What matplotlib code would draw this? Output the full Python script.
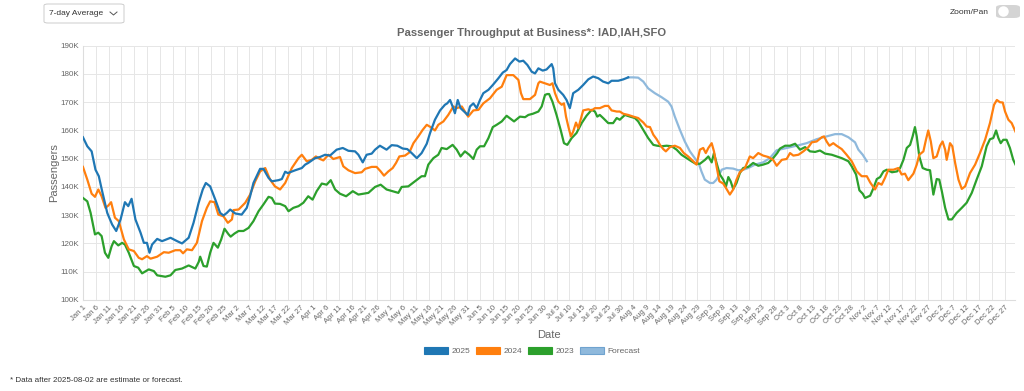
import numpy as np
import pandas as pd
import matplotlib
matplotlib.use("Agg")
import matplotlib.pyplot as plt
from matplotlib.patches import FancyBboxPatch, Rectangle, Ellipse
from matplotlib.lines import Line2D

plt.rcParams['font.family'] = ['Liberation Sans', 'DejaVu Sans']

# day of year (0 = Jan 1) and passengers in thousands
days_2025 = [0, 1.7, 3.4, 4.9, 6.2, 7.5, 9.5, 11.4, 13, 14.7, 16.4, 17.7, 19, 20.5, 22.5, 23.8, 25, 26, 27, 29,
             30.9, 34.2, 36.8, 38.7, 41.3, 43.2, 45.2, 46.8, 48, 49.7, 51.7, 53.6, 54.9, 56.2, 57.5, 59.5, 62, 64,
             65.3, 66.6, 69.2, 70.5, 72.5, 73.8, 76.4, 77.7, 79, 80, 82.9, 85.5, 86.8, 88, 90.7, 92.6, 94.6, 96.5,
             99.1, 101.5, 103.7, 106.3, 107.6, 109.3, 110.8, 112.8, 114.1, 116, 118.6, 120.6, 122.8, 124.9, 126.7,
             128.4, 130.4, 132.3, 134.3, 135.6, 137.5, 139.5, 141.4, 142.3, 143.4, 144.4, 145.3, 146.4, 147.5,
             148.9, 150.3, 151.2, 152.5, 153.8, 155.1, 156.4, 158.4, 160.1, 162.3, 164, 165.5, 166.8, 168.8, 170.5,
             172, 173.6, 175.3, 176.6, 177.9, 179.6, 181.1, 183.1, 183.7, 184.4, 185.7, 187.6, 188.9, 190.2, 191.5,
             193.5, 195.4, 197.4, 199.3, 201.3, 203.2, 205.2, 206.5, 209.1, 211.1, 213]
pax_2025 = [157.6, 154.4, 152.6, 146.1, 143.8, 138.5, 130.8, 126.7, 124.4, 128.5, 134.6, 133.2, 135.8, 128.5, 123.8,
            120.2, 120.2, 116.7, 119.6, 121.6, 120.8, 122, 120.8, 120, 122, 127.3, 134.4, 139.1, 141.4, 140.2, 135.5,
            130.8, 129.9, 130.8, 132, 130.6, 130.2, 132.6, 136.7, 141.4, 146.4, 146.4, 143.2, 142, 142.4, 142.8,
            145.4, 144.9, 145.9, 146.7, 147.9, 148.5, 150.2, 150.6, 151.4, 151.1, 153.2, 153.8, 152.8, 152.6, 151.4,
            148.7, 151.4, 151.8, 153.2, 154.6, 153.2, 154.8, 154.6, 153.6, 153.4, 152, 150.2, 152, 155.3, 159.1,
            163.8, 167.1, 169.1, 169.6, 170.8, 168.5, 166.1, 170.8, 167.9, 166.7, 165.5, 168.5, 169.6, 167.9, 170.8,
            173.2, 174.4, 176.1, 178.5, 180.5, 181.4, 183.5, 185.5, 184.4, 184.7, 183.2, 180.8, 180.2, 182, 181.2,
            181.6, 183.5, 182, 176.7, 174.4, 172.6, 170.8, 167.9, 173.2, 174.4, 176.1, 178.1, 179.1, 178.5, 177.3,
            176.7, 177.6, 177.6, 178.1, 178.8]

days_forecast = [213, 215, 216.9, 218.9, 220.8, 223.4, 226, 228.6, 229.9, 231.2, 233.2, 235.1, 237.1, 239, 240.7,
                 241.6, 242.9, 244.9, 246.2, 247.5, 249.5, 251.4, 254, 256, 258, 259.9, 262.5, 265.7, 268.3, 271,
                 274.9, 278.8, 282.7, 286.6, 290.5, 293.8, 296.4, 299, 301.6, 302.9, 304.6, 306.2]
pax_forecast = [178.8, 178.8, 178.7, 177.3, 174.9, 173.2, 171.8, 170.2, 168.5, 164.9, 160.2, 156.1, 152.6, 150.2,
                147.9, 145.5, 142.6, 141.4, 141.4, 142.6, 146.1, 146.7, 146.5, 145.9, 146.1, 146.7, 147.9, 148.7,
                150.2, 153.0, 153.8, 154.6, 155.5, 156.9, 157.9, 158.7, 158.7, 157.6, 155.8, 153.2, 151.4, 149.1]

days_2024 = [0, 1.7, 3.4, 4.7, 6, 7.3, 8.8, 9.9, 11, 12.5, 14, 16, 17.9, 19.9, 21.8, 23.1, 25, 26.4, 29, 31.6, 33.5,
             36.1, 38, 39.1, 40.6, 42.6, 44.5, 46.5, 48.4, 49.7, 51.4, 52.9, 54.9, 56.6, 58.2, 58.8, 60.8, 63.4,
             65.3, 67.3, 69.2, 71.2, 73.1, 75, 77, 79, 81.6, 84.2, 85.5, 87.4, 89.4, 91, 92.6, 93.9, 95.9, 97.8,
             100.4, 101.7, 103.7, 106.3, 108.9, 110.2, 112.8, 114.7, 116.3, 117.6, 119.3, 121, 122.3, 123.6, 125.8,
             127.5, 129.1, 131, 132.7, 134.3, 135.8, 137.5, 138.8, 140.8, 142.7, 144.7, 146, 148, 149.2, 150.5,
             152.5, 154.5, 156.4, 159, 161.6, 163.6, 165.5, 168.1, 170.1, 171.1, 172, 174.6, 176.6, 177.9, 178.5,
             180.5, 182.4, 183.4, 184.4, 185.7, 187, 187.9, 188.7, 189.6, 190.6, 191.5, 192.6, 193.5, 194.4, 195.4,
             197.4, 198.7, 200, 201.9, 203.9, 205.2, 206.5, 208.5, 209.7, 211.1, 213, 215, 216.9, 218.9, 220.2,
             221.5, 222.8, 224.1, 225.4, 226.7, 227.7, 229.3, 231.2, 233.2, 234.7, 236.4, 238.4, 239.7, 241, 242.3,
             243.3, 244.3, 245.6, 246.5, 247.5, 248.6, 250.1, 251.2, 252.7, 254, 255.3, 256.6, 258.6, 260.5, 261.8,
             263.8, 265.7, 267.7, 269.6, 271, 273, 274.9, 276.2, 277.5, 279.5, 281.4, 283.4, 284.7, 286.6, 288.6,
             289.5, 290.5, 291.6, 293.1, 294.4, 296.4, 298.3, 300.3, 302.3, 304.2, 306.2, 307.5, 309.4, 310.7, 312,
             313.3, 314.6, 316.6, 318.5, 319.8, 321.1, 322.4, 324.4, 325.7, 326.7, 328.3, 329.3, 330.2, 331.2,
             332.2, 333.5, 334.8, 335.8, 336.8, 337.4, 338.1, 338.7, 339.6, 340.7, 342, 343.3, 344.6, 346.5, 348.5,
             350.4, 352.4, 354.3, 355.9, 357, 358.2, 359.3, 360.2, 361.5, 362.8, 364.5]
pax_2024 = [147.1, 142.6, 137.6, 136.5, 139.1, 136.7, 132.6, 133.4, 134.6, 129.1, 127.9, 121.4, 117.9, 117.3, 114.9,
            114.4, 115.5, 114.6, 115.3, 116.9, 116.7, 117.6, 117.6, 116.5, 117.9, 117.6, 120.2, 127.9, 132.6, 134.9,
            134.6, 130.2, 129.6, 127.3, 128.5, 131.8, 132, 134.4, 137.3, 142, 145.5, 146.7, 142.6, 140.2, 139.1,
            141.4, 146.7, 150.2, 151.4, 149.1, 149.6, 150.8, 149.9, 149.4, 151.4, 149.9, 150.6, 147.3, 145.9, 144.9,
            145.2, 146.4, 147.1, 147.1, 145.5, 144, 145.5, 146.7, 148.5, 150.8, 151.1, 152.2, 155.5, 157.9, 160.2,
            162, 161.2, 160, 162, 163.2, 165.5, 168.5, 167.9, 168.5, 166.7, 164.9, 167.1, 167.3, 169.6, 171.4,
            174.4, 175.5, 179.6, 179.6, 177.9, 173.2, 171.1, 171.1, 172.6, 176.7, 177.3, 176.7, 176.1, 176.7, 173.2,
            170.2, 169.1, 169.6, 164.9, 161.4, 157.9, 159.6, 162.8, 160.8, 163.8, 167.1, 167.5, 167.1, 167.9, 167.9,
            168.7, 168.7, 167.1, 166.7, 166.7, 165.9, 165.5, 164.9, 164.4, 162.8, 161.4, 161.2, 158.5, 156.9, 154.9,
            153.4, 152.6, 154.1, 154.6, 153.8, 152, 150.8, 149.1, 147.9, 153.2, 153.8, 152, 153.8, 155.5, 152.6,
            147.3, 142, 141.2, 139.6, 137.3, 139.1, 142.6, 145.2, 146.7, 150.8, 150.2, 152, 151.1, 150.6, 149.6,
            147.5, 149.6, 149.9, 152, 151.1, 151.4, 152.6, 154.1, 155.8, 156.1, 157.6, 157.9, 156.1, 154.6, 155.5,
            154.6, 153.4, 151.4, 149.1, 145.5, 143.8, 143.8, 141.6, 139.1, 141.4, 140.8, 143.2, 146.1, 146.1, 146.7,
            144.4, 144.7, 142.4, 144.7, 147.9, 151.4, 152.6, 156.7, 160, 156.1, 150.2, 150.8, 154.6, 156.1, 153.2,
            149.6, 152.6, 155.5, 154.4, 148.5, 142.6, 139.3, 140.2, 144.9, 147.9, 152, 156.7, 162.6, 169.1, 170.8,
            170, 169.9, 166.7, 163.8, 162.6, 159.1]

days_2023 = [0, 1.7, 3, 4.7, 6, 7.3, 8.6, 9.9, 11.2, 12.1, 13.8, 15.3, 16.4, 17.9, 19.9, 21.6, 23.1, 25.7, 27.7, 29,
             32.2, 34.2, 36.1, 38.7, 41.3, 43.9, 45.2, 45.8, 47.1, 48.4, 49.7, 51, 52.7, 54, 55.3, 56.9, 57.7, 59.2,
             60.8, 62.7, 64.7, 66.6, 68.6, 70.5, 72.5, 73.8, 75, 77, 79, 80.3, 82.2, 84.2, 86.1, 88, 89.7, 91.3,
             93.3, 95.2, 96.8, 98.5, 100.4, 102.8, 105.4, 107.6, 111.5, 114.1, 116.3, 118.6, 123.2, 124.5, 127.1,
             129.7, 132.3, 133.6, 134.9, 136.9, 138.8, 140.1, 142.1, 144.4, 146, 147.5, 149.2, 150.9, 152.5, 153.8,
             155.1, 156.7, 158.4, 160.1, 161.6, 163.6, 165.5, 168.4, 170.7, 172.7, 174, 175.7, 177.9, 179.2, 180.5,
             181.4, 182.1, 183.4, 185, 186.6, 187.9, 189.2, 190.9, 192.8, 194.8, 196.7, 198.7, 200, 200.9, 201.9,
             203.2, 205.2, 207.1, 208.5, 209.7, 211.7, 213.7, 215.6, 216.9, 218.9, 220.8, 222.8, 224.3, 226, 228, 230,
             231.9, 233.8, 235.8, 237.7, 239.4, 241, 243, 244.3, 245.6, 246.5, 247.5, 248.8, 250.1, 251.2, 252.1, 253,
             254, 255.3, 256.6, 257.9, 259.9, 261.8, 263.8, 265.7, 267.7, 269.6, 271.2, 272.3, 274.3, 276.2, 278.2,
             280.1, 282.1, 284, 286, 287.9, 289.9, 292.5, 294.4, 296.4, 299, 300.3, 302, 303.3, 304.6, 305.5, 307.5,
             308.8, 310.1, 311.4, 312.7, 314, 316, 318, 319.2, 320.5, 321.8, 323.1, 324.1, 325, 325.7, 326.7, 328,
             329.6, 330.9, 332.2, 333.5, 334.5, 335.5, 336.8, 338.1, 339.4, 341.3, 343.3, 345.2, 347.2, 349.1,
             351.1, 353, 354.3, 355.6, 356.7, 357.6, 358.5, 359.5, 360.8, 362.1, 363.4, 364.5]
pax_2023 = [136.1, 134.9, 130.8, 123.2, 123.8, 122.6, 116.7, 114.9, 119, 120.8, 119.3, 120.2, 119.6, 116.7, 112,
            111.4, 109.4, 110.8, 110.2, 108.7, 108.2, 108.7, 110.6, 111.1, 112.2, 111.1, 113.4, 115.3, 112, 111.8,
            116.7, 120.2, 118.5, 121.4, 125.2, 123.2, 122.4, 123.5, 124.4, 124.4, 125.5, 127.9, 131.4, 133.8, 136.5,
            136.1, 134.1, 134, 133.2, 131.4, 132.6, 133.2, 134.4, 136.7, 135.5, 138.5, 141.2, 140.8, 142.4, 139.1,
            137.6, 136.7, 138.5, 137.3, 137.9, 140, 140.8, 139.1, 137.9, 140, 140.2, 142, 143.8, 143.8, 147.9, 150.2,
            151.4, 153.8, 153.4, 154.9, 153.2, 150.8, 152.6, 151.4, 149.9, 153.2, 154.4, 154.4, 157.3, 161.2, 162,
            163.2, 165.2, 163.2, 164.9, 164.7, 165.5, 165.9, 166.7, 168.5, 172.6, 172.9, 172.9, 170.2, 165.5, 160.2,
            155.5, 154.9, 157.3, 159.1, 162.6, 165.2, 167.3, 166.7, 164.9, 165.5, 164.4, 162.6, 162.6, 164.4, 163.8,
            165.5, 164.9, 164.4, 163.2, 160.2, 157.3, 154.9, 154.6, 154.4, 154.6, 154.4, 153.2, 151.4, 150.2, 149.1,
            148.2, 148.2, 149.6, 150.8, 148.7, 152, 148.5, 144.4, 142.6, 140.2, 143.5, 142, 139.3, 141.4, 144.9,
            146.7, 147.1, 148.5, 147.5, 147.9, 148.5, 150.2, 152, 153.6, 154.6, 154.6, 155.3, 153.2, 154.1, 152.6,
            152.4, 152.9, 151.8, 151.4, 150.8, 150.2, 149.1, 147.3, 144.4, 138.8, 137.6, 136.1, 136.9, 139.6, 142.8,
            143.5, 145.5, 146.1, 145.2, 145.5, 146.7, 149.6, 153.8, 154.9, 157.9, 161.2, 157.9, 150.8, 146.7, 146.1,
            145.9, 137.3, 142.8, 142.6, 138.5, 132.6, 128.5, 128.5, 130.8, 132.6, 134.4, 137.9, 142.6, 147.3, 154.4,
            156.9, 157.3, 160, 157.3, 155.5, 156.7, 156.7, 153.8, 149.6, 147.5]

series_labels = ['2025', '2024', '2023', 'Forecast']
series_colors = ['#1f77b4', '#ff7f0e', '#2ca02c', '#8fb9dc']

dates = pd.date_range('2025-01-01', '2025-12-31', freq='D')
tick_idx = np.arange(0, 365, 5)
tick_labels = [f"{d.strftime('%b')} {d.day}" for d in dates[tick_idx]]

fig = plt.figure(figsize=(10.24, 3.91), dpi=100)
ax = fig.add_axes([0.081, 0.233, 0.91, 0.650])

ax.plot(days_2023, pax_2023, color=series_colors[2], lw=1.6, zorder=3)
ax.plot(days_2024, pax_2024, color=series_colors[1], lw=1.6, zorder=4)
ax.plot(days_forecast, pax_forecast, color=series_colors[3], lw=1.6, zorder=2)
ax.plot(days_2025, pax_2025, color=series_colors[0], lw=1.6, zorder=5)

ax.set_xlim(0, 364)
ax.set_ylim(100, 190)
ax.set_xticks(tick_idx)
ax.set_xticklabels(tick_labels, rotation=45, ha='right', va='top', rotation_mode='anchor',
                   fontsize=5.6, color='#666666')
ax.set_yticks(np.arange(100, 191, 10))
ax.set_yticklabels([f"{v}K" for v in range(100, 191, 10)], fontsize=5.8, color='#666666')
ax.tick_params(axis='both', length=0, pad=3)
ax.grid(True, color='#e6e6e6', lw=0.7)
ax.set_axisbelow(True)
for s in ['top', 'right']:
    ax.spines[s].set_visible(False)
for s in ['left', 'bottom']:
    ax.spines[s].set_color('#dddddd')
    ax.spines[s].set_linewidth(0.8)

ax.set_xlabel('Date', fontsize=8, color='#666666', labelpad=2)
ax.set_ylabel('Passengers', fontsize=8, color='#666666', labelpad=1)
fig.text(532 / 1024, 1 - 33 / 391, 'Passenger Throughput at Business*: IAD,IAH,SFO', fontsize=8.1,
         fontweight='bold', color='#666666', ha='center', va='center')

# legend, chart.js style boxes
handles = [Rectangle((0, 0), 1, 1, facecolor=c, edgecolor=c if i < 3 else '#6fa3cf', lw=0.8)
           for i, c in enumerate(series_colors)]
fig.legend(handles, series_labels, loc='center', bbox_to_anchor=(532 / 1024, 0.102), ncol=4, frameon=False,
           fontsize=6, handlelength=2.9, handleheight=0.9, handletextpad=0.4, columnspacing=0.7,
           labelcolor='#666666')

# dropdown control
fig.patches.append(FancyBboxPatch((44 / 1024, 1 - 23 / 391), 80 / 1024, 19 / 391,
                                  boxstyle='round,pad=0,rounding_size=0.004', transform=fig.transFigure,
                                  facecolor='white', edgecolor='#cccccc', lw=0.7))
fig.text(49 / 1024, 1 - 13.5 / 391, '7-day Average', fontsize=6, color='#333333', va='center')
fig.add_artist(Line2D([110 / 1024, 113.5 / 1024, 117 / 1024], [1 - 12 / 391, 1 - 15 / 391, 1 - 12 / 391],
                      transform=fig.transFigure, color='#555555', lw=0.7))

# zoom/pan toggle
fig.text(989 / 1024, 1 - 12 / 391, 'Zoom/Pan', fontsize=6, color='#333333', va='center', ha='right')
fig.patches.append(FancyBboxPatch((996 / 1024, 1 - 18 / 391), 24 / 1024, 13 / 391,
                                  boxstyle='round,pad=0,rounding_size=0.006', transform=fig.transFigure,
                                  facecolor='#d4d4d4', edgecolor='none', zorder=1))
fig.add_artist(Ellipse((1003.5 / 1024, 1 - 11.5 / 391), 10.5 / 1024, 10.5 / 391, transform=fig.transFigure,
                       facecolor='white', edgecolor='none', zorder=10))

fig.text(10 / 1024, 1 - 380 / 391, '* Data after 2025-08-02 are estimate or forecast.', fontsize=5.8,
         color='#333333', va='center')

fig.savefig('out.png', dpi=100)
